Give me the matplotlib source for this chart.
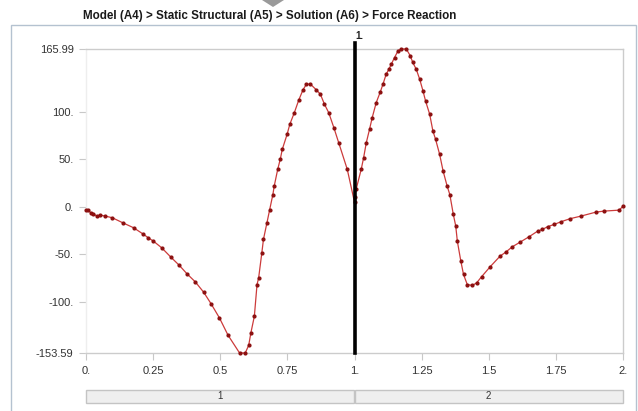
import matplotlib.pyplot as plt
from matplotlib.patches import Rectangle

# force reaction data
x_vals = [0.0, 0.009, 0.017, 0.027, 0.040, 0.052, 0.071, 0.098, 0.137, 0.177,
          0.211, 0.232, 0.251, 0.282, 0.316, 0.348, 0.376, 0.407, 0.438, 0.466,
          0.497, 0.529, 0.572, 0.593, 0.606, 0.614, 0.627, 0.637, 0.643, 0.655,
          0.661, 0.674, 0.684, 0.696, 0.701, 0.714, 0.724, 0.731, 0.749, 0.759,
          0.776, 0.792, 0.808, 0.821, 0.836, 0.858, 0.873, 0.888, 0.904, 0.923,
          0.941, 0.973, 1.0,
          1.0, 1.006, 1.025, 1.034, 1.044, 1.056, 1.066, 1.081, 1.096, 1.106,
          1.118, 1.128, 1.137, 1.149, 1.162, 1.174, 1.193, 1.208, 1.217, 1.230,
          1.243, 1.255, 1.265, 1.280, 1.292, 1.302, 1.317, 1.330, 1.345, 1.355,
          1.368, 1.377, 1.383, 1.396, 1.406, 1.420, 1.439, 1.455, 1.473, 1.505,
          1.542, 1.563, 1.588, 1.617, 1.650, 1.682, 1.700, 1.719, 1.744, 1.769,
          1.803, 1.843, 1.899, 1.930, 1.986, 2.0]
y_vals = [-3.0, -3.4, -6.1, -7.2, -9.6, -8.6, -9.6, -11.4, -16.7, -21.9,
          -28.2, -32.5, -36.0, -43.0, -52.8, -61.6, -70.3, -78.8, -89.6, -101.9,
          -116.7, -134.9, -153.59, -153.59, -145.5, -132.5, -115.0, -81.6, -74.6, -48.0,
          -34.0, -16.6, -3.0, 13.0, 21.9, 39.5, 50.7, 60.5, 76.3, 86.8,
          99.1, 112.0, 123.0, 129.0, 129.0, 123.0, 118.4, 108.0, 99.0, 83.4,
          67.6, 39.5, 5.0,
          10.0, 18.4, 39.5, 51.8, 67.6, 81.6, 93.9, 109.7, 120.8, 129.0,
          139.5, 144.7, 150.0, 157.0, 164.0, 165.99, 165.99, 158.7, 151.8, 144.7,
          134.0, 122.0, 111.0, 97.4, 79.8, 71.0, 55.3, 37.7, 21.9, 13.0,
          -7.9, -20.0, -36.0, -57.0, -71.0, -81.6, -82.6, -79.8, -73.5, -63.0,
          -51.8, -47.6, -41.9, -37.0, -31.4, -25.5, -23.7, -20.8, -18.4, -15.6,
          -12.4, -9.7, -5.5, -4.4, -3.4, 0.8]

x_ticks = [0, 0.25, 0.5, 0.75, 1, 1.25, 1.5, 1.75, 2]
x_labels = ['0.', '0.25', '0.5', '0.75', '1.', '1.25', '1.5', '1.75', '2.']
y_ticks = [-153.59, -100, -50, 0, 50, 100, 165.99]
y_labels = ['-153.59', '-100.', '-50.', '0.', '50.', '100.', '165.99']
steps = ['1', '2']
step_edges = [0, 1, 2]
marker_x = 1.0

title = 'Model (A4) > Static Structural (A5) > Solution (A6) > Force Reaction'

W, H = 638, 411
fig = plt.figure(figsize=(W / 100, H / 100), dpi=100)

# outer panel frame
fig.add_artist(Rectangle((11 / W, -0.01), (636 - 11) / W, (H - 25) / H + 0.01,
                         transform=fig.transFigure, fill=False,
                         edgecolor='#b4c2d0', linewidth=1.0))
# little grey tab at top
fig.add_artist(plt.Polygon([[262 / W, 1.0], [284 / W, 1.0], [273 / W, (H - 7) / H]],
                           closed=True, transform=fig.transFigure,
                           facecolor='#9a9a9a', edgecolor='none'))
fig.text(270 / W, (H - 16.5) / H, title, ha='center', va='center',
         family=['Liberation Sans Narrow', 'Liberation Sans'],
         fontweight='bold', fontsize=8.4, color='#1a1a1a')

ax = fig.add_axes([86 / W, (H - 353) / H, (623 - 86) / W, (353 - 49) / H])
ax.plot(x_vals, y_vals, color='#cc3b3b', linewidth=0.9, marker='o',
        markersize=2.0, markerfacecolor='#8c1010', markeredgecolor='#8c1010',
        clip_on=False, zorder=3)
ax.axvline(marker_x, ymin=0, ymax=1.02, color='black', linewidth=2.6,
           clip_on=False, zorder=4)
ax.text(marker_x + 0.02, 165.99 + 14, '1.', ha='center', va='center',
        fontsize=7, fontweight='bold', family='Liberation Sans', color='#222222')

ax.set_xlim(0, 2)
ax.set_ylim(-153.59, 165.99)
ax.set_xticks(x_ticks)
ax.set_xticklabels(x_labels)
ax.set_yticks(y_ticks)
ax.set_yticklabels(y_labels)
for lab in ax.get_xticklabels() + ax.get_yticklabels():
    lab.set_family('Liberation Sans')
    lab.set_fontsize(8)
    lab.set_color('#333333')
ax.tick_params(axis='both', length=5, width=0.8, color='#c8c8c8', pad=4)
for s in ax.spines.values():
    s.set_color('#cccccc')
    s.set_linewidth(1.0)
ax.spines['left'].set_color('#eeeeee')

# step bar under the axis
for i, lab in enumerate(steps):
    x0 = (86 + 268.5 * step_edges[i]) / W
    x1 = (86 + 268.5 * step_edges[i + 1]) / W
    fig.add_artist(Rectangle((x0, (H - 403) / H), x1 - x0, 13 / H,
                             transform=fig.transFigure, facecolor='#efefef',
                             edgecolor='#c4c4c4', linewidth=1.0))
    fig.text((x0 + x1) / 2, (H - 396) / H, lab, ha='center', va='center',
             fontsize=7, family='Liberation Sans', color='#333333')

fig.savefig('out.png', dpi=100)
